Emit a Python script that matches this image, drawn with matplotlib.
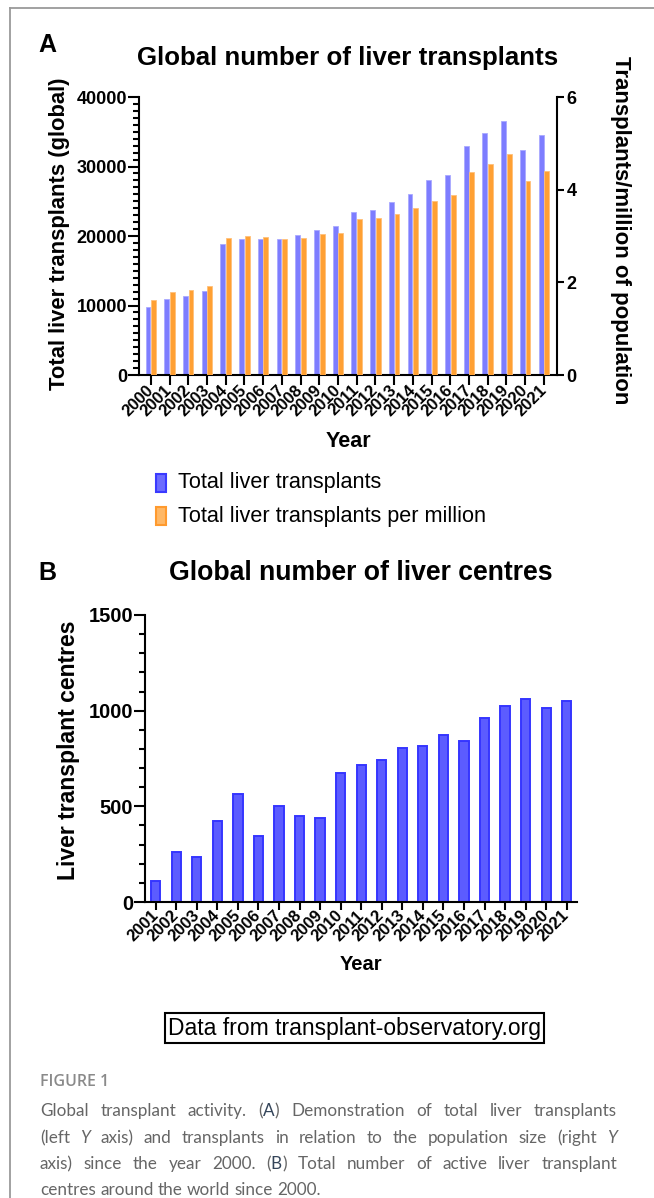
import matplotlib
matplotlib.use('Agg')
import matplotlib.pyplot as plt
import numpy as np
from matplotlib.patches import Rectangle
from matplotlib.lines import Line2D
from matplotlib.ticker import MultipleLocator

# ---------------- data ----------------
years_a = [str(y) for y in range(2000, 2022)]
total_tx = [9800, 10900, 11400, 12100, 18850, 19600, 19550, 19600, 20100, 20900,
            21400, 23500, 23800, 24900, 26100, 28000, 28800, 33000, 34800, 36600,
            32400, 34500]
per_million = [1.61, 1.79, 1.83, 1.93, 2.95, 3.01, 2.97, 2.94, 2.96, 3.04, 3.07,
               3.36, 3.38, 3.48, 3.61, 3.76, 3.89, 4.38, 4.56, 4.76, 4.18, 4.40]
years_b = [str(y) for y in range(2001, 2022)]
centres = [112, 261, 237, 421, 562, 343, 503, 452, 438, 672, 717, 740, 807, 813,
           874, 841, 961, 1025, 1061, 1015, 1051]

W, H = 654, 1198
plt.rcParams['font.family'] = ['Liberation Sans', 'DejaVu Sans']

fig = plt.figure(figsize=(W / 100, H / 100), dpi=100)


def fx(x):
    return x / W


def fy(y):
    return 1 - y / H


BLUE_A = '#7d7dff'
BLUE_A_E = '#a9a9ff'
ORANGE_A = '#ffa033'
ORANGE_A_E = '#ffc07a'
BLUE_B = '#5c5cff'
BLUE_B_E = '#3535ff'

SP_LW = 1.5
YEAR_SIZE = 12

# ---------------- panel A ----------------
axA = fig.add_axes([fx(139), fy(375), (557 - 139) / W, (375 - 97) / H])
axA2 = axA.twinx()
x = np.arange(len(years_a))
axA.bar(x - 0.15, total_tx, width=0.26, color=BLUE_A, edgecolor=BLUE_A_E, lw=0.6)
axA2.bar(x + 0.15, per_million, width=0.26, color=ORANGE_A, edgecolor=ORANGE_A_E, lw=0.6)
axA.set_ylim(0, 40000)
axA2.set_ylim(0, 6)
axA.set_xlim(-0.63, 21.7)

for a in (axA, axA2):
    a.spines['top'].set_visible(False)
    for s in a.spines.values():
        s.set_linewidth(SP_LW)
axA.spines['right'].set_visible(False)
axA2.spines['left'].set_visible(False)
axA2.spines['bottom'].set_visible(False)

axA.yaxis.set_major_locator(MultipleLocator(10000))
axA.yaxis.set_minor_locator(MultipleLocator(1000))
axA.tick_params(axis='y', which='major', length=8, width=SP_LW, labelsize=13, pad=0.5)
axA.tick_params(axis='y', which='minor', length=4.5, width=SP_LW)
axA.tick_params(axis='x', which='major', length=7, width=SP_LW, pad=2)
axA2.set_yticks([0, 2, 4, 6])
axA2.tick_params(axis='y', which='major', length=5, width=SP_LW, labelsize=13, pad=2)
for lab in axA.get_yticklabels() + axA2.get_yticklabels():
    lab.set_fontweight('bold')
axA.set_xticks(x)
axA.set_xticklabels(years_a, rotation=45, ha='right', va='center',
                    rotation_mode='anchor', fontsize=YEAR_SIZE, fontweight='bold')

fig.text(fx(47), fy(45), 'A', fontsize=18, fontweight='bold', ha='center', va='center')
fig.text(fx(348), fy(58), 'Global number of liver transplants', fontsize=18.6,
         fontweight='bold', ha='center', va='center')
fig.text(fx(60), fy(234), 'Total liver transplants (global)', fontsize=15.8,
         fontweight='bold', rotation=90, ha='center', va='center')
fig.text(fx(621), fy(230), 'Transplants/million of population', fontsize=16.0,
         fontweight='bold', rotation=270, ha='center', va='center')
fig.text(fx(348), fy(441), 'Year', fontsize=15.5, fontweight='bold', ha='center', va='center')

# legend
legend_items = [('Total liver transplants', '#6c6cff', '#3a3aff', 483),
                ('Total liver transplants per million', '#ffb866', '#ff9a2e', 516)]
for label, fc, ec, yc in legend_items:
    fig.add_artist(Rectangle((fx(156), fy(yc + 9)), 10 / W, 18 / H, transform=fig.transFigure,
                             facecolor=fc, edgecolor=ec, lw=1.5))
    fig.text(fx(178), fy(yc), label, fontsize=15.6, ha='left', va='center')

# ---------------- panel B ----------------
axB = fig.add_axes([fx(145), fy(902), (577 - 145) / W, (902 - 615) / H])
xb = np.arange(len(years_b))
axB.bar(xb, centres, width=0.45, color=BLUE_B, edgecolor=BLUE_B_E, lw=1.4)
axB.set_ylim(0, 1500)
axB.set_xlim(-0.52, 20.5)
axB.spines['top'].set_visible(False)
axB.spines['right'].set_visible(False)
for s in axB.spines.values():
    s.set_linewidth(SP_LW)
axB.yaxis.set_major_locator(MultipleLocator(500))
axB.yaxis.set_minor_locator(MultipleLocator(100))
axB.tick_params(axis='y', which='major', length=8, width=SP_LW, labelsize=14.5, pad=0.5)
axB.tick_params(axis='y', which='minor', length=4.5, width=SP_LW)
axB.tick_params(axis='x', which='major', length=6, width=SP_LW, pad=2)
for lab in axB.get_yticklabels():
    lab.set_fontweight('bold')
axB.set_xticks(xb)
axB.set_xticklabels(years_b, rotation=45, ha='right', va='center',
                    rotation_mode='anchor', fontsize=YEAR_SIZE, fontweight='bold')

fig.text(fx(47), fy(573), 'B', fontsize=18, fontweight='bold', ha='center', va='center')
fig.text(fx(361), fy(573), 'Global number of liver centres', fontsize=19.2,
         fontweight='bold', ha='center', va='center')
fig.text(fx(68), fy(750), 'Liver transplant centres', fontsize=16.6,
         fontweight='bold', rotation=90, ha='center', va='center')
fig.text(fx(361), fy(965), 'Year', fontsize=14.5, fontweight='bold', ha='center', va='center')

# data source box
fig.text(fx(354.5), fy(1028), 'Data from transplant-observatory.org', fontsize=16.5,
         ha='center', va='center',
         bbox=dict(boxstyle='square,pad=0.15', facecolor='white', edgecolor='black', lw=1.5))

# ---------------- border ----------------
fig.add_artist(Line2D([fx(10), 1], [fy(8), fy(8)], color='#9a9a9a', lw=1.3,
                      transform=fig.transFigure))
fig.add_artist(Line2D([fx(10), fx(10)], [fy(8), 0], color='#9a9a9a', lw=1.3,
                      transform=fig.transFigure))

# ---------------- caption ----------------
CAP_FONT = ['Lato', 'DejaVu Sans']
CAP_COL = '#666666'
CAP_DARK = '#34455a'
CAP_SIZE = 12.3
fig.text(fx(40), fy(1082), 'FIGURE 1', fontsize=11.5, family=['Open Sans', 'DejaVu Sans'],
         color='#8a8a8a', fontweight='semibold', ha='left', va='center')

N = dict(color=CAP_COL, style='normal')
D = dict(color=CAP_DARK, style='normal')
I = dict(color=CAP_COL, style='italic')


def words(s):
    return [[(w, N)] for w in s.split()]


lines = [
    words('Global transplant activity.') + [[('(', N), ('A', D), (')', N)]]
    + words('Demonstration of total liver transplants'),
    [[('(left', N)], [('Y', I)]] + words('axis) and transplants in relation to the population size')
    + [[('(right', N)], [('Y', I)]],
    words('axis) since the year 2000.') + [[('(', N), ('B', D), (')', N)]]
    + words('Total number of active liver transplant'),
    words('centres around the world since 2000.'),
]
line_y = [1111, 1138, 1164, 1190]
x0, x1 = 40, 617

renderer = fig.canvas.get_renderer()
for li, (ln, yy) in enumerate(zip(lines, line_y)):
    word_objs = []
    for w in ln:
        segs = []
        for txt, st in w:
            t = fig.text(0, fy(yy), txt, fontsize=CAP_SIZE, family=CAP_FONT,
                         color=st['color'], style=st['style'], ha='left', va='center')
            wpx = t.get_window_extent(renderer).width
            segs.append((t, wpx))
        word_objs.append(segs)
    widths = [sum(s[1] for s in segs) for segs in word_objs]
    total = sum(widths)
    if li < len(lines) - 1:
        gap = (x1 - x0 - total) / (len(word_objs) - 1)
    else:
        sp = fig.text(0, 0, 'a a', fontsize=CAP_SIZE, family=CAP_FONT)
        sp2 = fig.text(0, 0, 'aa', fontsize=CAP_SIZE, family=CAP_FONT)
        gap = sp.get_window_extent(renderer).width - sp2.get_window_extent(renderer).width
        sp.remove()
        sp2.remove()
    cx = x0
    for segs, wd in zip(word_objs, widths):
        sx = cx
        for t, wpx in segs:
            t.set_x(fx(sx))
            sx += wpx
        cx += wd + gap

fig.savefig('out.png', dpi=100)
